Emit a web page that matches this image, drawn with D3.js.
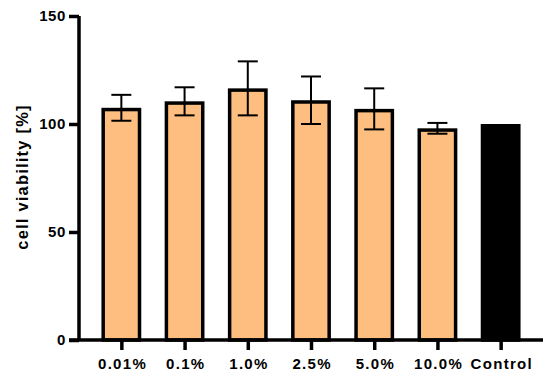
<!DOCTYPE html>
<html>
<head>
<meta charset="utf-8">
<script src="https://cdn.jsdelivr.net/npm/d3@7"></script>
<style>
  body { margin: 0; background: #fff; }
  text { font-family: "Liberation Sans", Arial, sans-serif; font-weight: bold; }
</style>
</head>
<body>
<svg id="chart" width="550" height="382"></svg>
<script>
// data
const categories = ['0.01%', '0.1%', '1.0%', '2.5%', '5.0%', '10.0%', 'Control'];
const means = [107.5, 110.5, 116.5, 111, 107, 98, 100];
const sds = [6, 6.5, 12.5, 11, 9.5, 2.5, null];
const yTicks = [0, 50, 100, 150];

const svg = d3.select('#chart');
const margin = {left: 79, right: 7, top: 16, bottom: 42};
const width = 550, height = 382;

const x = d3.scalePoint()
  .domain(categories)
  .range([margin.left, width - margin.right])
  .padding(0.67);

const y = d3.scaleLinear()
  .domain([0, 150])
  .range([height - margin.bottom, margin.top]);

const barW = x.step() * 0.63;
const sw = 3.5;

const data = categories.map((c, i) => ({cat: c, mean: means[i], sd: sds[i]}));

// bars (stroke kept inside the bar outline)
svg.selectAll('.bar')
  .data(data)
  .join('rect')
  .attr('class', 'bar')
  .attr('x', d => x(d.cat) - barW / 2 + sw / 2)
  .attr('y', d => y(d.mean) + sw / 2)
  .attr('width', barW - sw)
  .attr('height', d => y(0) - y(d.mean) - sw / 2)
  .attr('fill', d => d.cat === 'Control' ? '#000' : '#fdbe80')
  .attr('stroke', '#000')
  .attr('stroke-width', sw);

// error bars
const err = svg.selectAll('.err')
  .data(data.filter(d => d.sd != null))
  .join('g')
  .attr('class', 'err')
  .attr('stroke', '#000')
  .attr('stroke-width', 2);

err.append('line')
  .attr('x1', d => x(d.cat)).attr('x2', d => x(d.cat))
  .attr('y1', d => y(d.mean + d.sd)).attr('y2', d => y(d.mean - d.sd));
err.append('line')
  .attr('x1', d => x(d.cat) - 10).attr('x2', d => x(d.cat) + 10)
  .attr('y1', d => y(d.mean + d.sd)).attr('y2', d => y(d.mean + d.sd));
err.append('line')
  .attr('x1', d => x(d.cat) - 10).attr('x2', d => x(d.cat) + 10)
  .attr('y1', d => y(d.mean - d.sd)).attr('y2', d => y(d.mean - d.sd));

// y axis
const yAxis = svg.append('g')
  .attr('transform', `translate(${margin.left},0)`)
  .call(d3.axisLeft(y).tickValues(yTicks).tickSize(10).tickPadding(3));

// x axis
const xAxis = svg.append('g')
  .attr('transform', `translate(0,${y(0)})`)
  .call(d3.axisBottom(x).tickSize(10).tickPadding(8));

xAxis.select('.domain').attr('d', `M${margin.left - 10},0H${width - margin.right}`);

[yAxis, xAxis].forEach(a => {
  a.selectAll('.domain').attr('stroke', '#000').attr('stroke-width', 3.5);
  a.selectAll('.tick line').attr('stroke', '#000').attr('stroke-width', 3.5);
  a.selectAll('.tick text')
    .attr('fill', '#000')
    .style('font-size', '15px')
    .style('font-family', '"Liberation Sans", Arial, sans-serif')
    .style('font-weight', 'bold');
});
yAxis.selectAll('.tick text').style('letter-spacing', '0.6px');
xAxis.selectAll('.tick text').style('letter-spacing', '1.3px').attr('dx', '0.65px');
yAxis.select('.domain').attr('d', `M0,${margin.top}V${y(0)}`);

// y label
svg.append('text')
  .attr('transform', `translate(27.5,177) rotate(-90)`)
  .attr('text-anchor', 'middle')
  .style('font-size', '16.5px')
  .style('letter-spacing', '1.2px')
  .text('cell viability [%]');
</script>
</body>
</html>
